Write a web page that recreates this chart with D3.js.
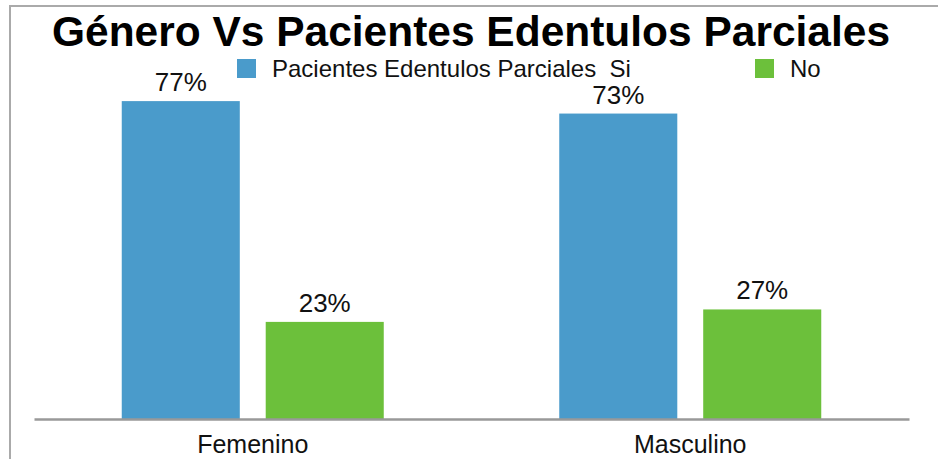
<!DOCTYPE html>
<html><head><meta charset="utf-8">
<script src="https://cdn.jsdelivr.net/npm/d3@7"></script>
<style>body{margin:0;background:#fff}svg{display:block}text{font-family:"Liberation Sans",Arial,Helvetica,sans-serif}</style>
</head><body>
<script>
const title = "Género Vs Pacientes Edentulos Parciales";
const categories = ["Femenino", "Masculino"];
const seriesNames = ["Pacientes Edentulos Parciales  Si", "No"];
const siValues = [76.6, 73.6];
const noValues = [23.4, 26.4];
const siLabels = ["77%", "73%"];
const noLabels = ["23%", "27%"];
const colors = ["#4a9bcb", "#6cc03b"];

const W = 938, H = 459;
const svg = d3.select("body").append("svg").attr("width", W).attr("height", H);

// frame
svg.append("line").attr("x1", 10).attr("x2", W).attr("y1", 6).attr("y2", 6).attr("stroke", "#aaa").attr("stroke-width", 2);
svg.append("line").attr("x1", 10).attr("x2", 10).attr("y1", 5).attr("y2", H).attr("stroke", "#aaa").attr("stroke-width", 2);

const groupW = 262;
const x0 = d3.scaleBand().domain(categories).range([34, 909]);
const x1 = d3.scaleBand().domain(seriesNames).range([0, groupW]).paddingInner(0.18);
const y = d3.scaleLinear().domain([0, 100]).range([419, 4]);

const data = categories.map((c, i) => ({
  cat: c,
  vals: [
    {s: seriesNames[0], v: siValues[i], l: siLabels[i], c: colors[0]},
    {s: seriesNames[1], v: noValues[i], l: noLabels[i], c: colors[1]}
  ]
}));

const g = svg.selectAll("g.cat").data(data).join("g").attr("class", "cat")
  .attr("transform", d => `translate(${x0(d.cat) + (x0.bandwidth() - groupW) / 2},0)`);

g.selectAll("rect").data(d => d.vals).join("rect")
  .attr("x", d => x1(d.s)).attr("width", x1.bandwidth())
  .attr("y", d => y(d.v)).attr("height", d => y(0) - y(d.v))
  .attr("fill", d => d.c);

g.selectAll("text.val").data(d => d.vals).join("text").attr("class", "val")
  .attr("x", d => x1(d.s) + x1.bandwidth() / 2).attr("y", d => y(d.v) - 10)
  .attr("text-anchor", "middle").attr("font-size", 26).attr("fill", "#111").text(d => d.l);

// axis
const xAxis = svg.append("g").attr("transform", "translate(0,419)").call(d3.axisBottom(x0).tickSize(0));
xAxis.select(".domain").attr("stroke", "#999").attr("stroke-width", 2.5);
xAxis.selectAll("text").attr("dy", null).attr("y", 34).attr("font-size", 25).attr("fill", "#111")
  .attr("font-family", '"Liberation Sans",Arial,sans-serif');

// title
svg.append("text").attr("x", 471).attr("y", 46).attr("text-anchor", "middle")
  .attr("font-size", 42).attr("font-weight", "bold").attr("fill", "#000")
  .attr("textLength", 838).attr("lengthAdjust", "spacingAndGlyphs").text(title);

// legend
const legX = [237, 755];
seriesNames.forEach((s, i) => {
  svg.append("rect").attr("x", legX[i]).attr("y", 59).attr("width", 19).attr("height", 19).attr("fill", colors[i]);
  svg.append("text").attr("x", legX[i] + 35).attr("y", 77).attr("font-size", 24).attr("fill", "#111").style("white-space", "pre").text(s);
});
</script>
</body></html>
